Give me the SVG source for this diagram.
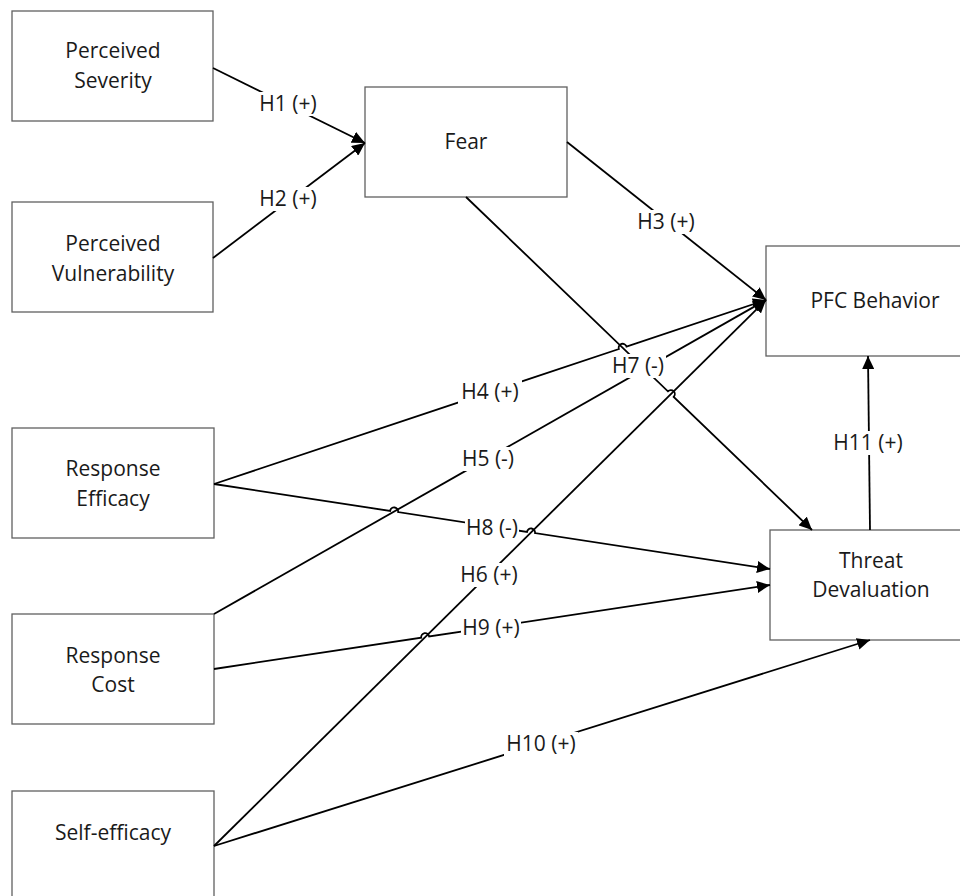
<svg xmlns="http://www.w3.org/2000/svg" width="960" height="896" viewBox="0 0 960 896">
<defs>
<style>
.box{fill:#fff;stroke:#606060;stroke-width:1.3}
.t{font-family:"Open Sans","Noto Sans",sans-serif;font-size:21px;fill:#1a1a1a;text-anchor:middle}
.c{fill:none;stroke:#000;stroke-width:1.8}
.arr{marker-end:url(#ah)}
.lb{fill:#fff;stroke:none}
</style>
<marker id="ah" markerUnits="userSpaceOnUse" markerWidth="14" markerHeight="12" refX="13" refY="6" orient="auto">
<path d="M0,0 L13,6 L0,12 z" fill="#000"/>
</marker>
</defs>
<rect width="960" height="896" fill="#fff"/>

<g id="perceived-severity"><rect class="box" x="12" y="11" width="201" height="110"/><text class="t" x="113" y="58">Perceived</text><text class="t" x="113" y="88">Severity</text></g>
<g id="perceived-vulnerability"><rect class="box" x="12" y="202" width="201" height="110"/><text class="t" x="113" y="251">Perceived</text><text class="t" x="113" y="281">Vulnerability</text></g>
<g id="fear"><rect class="box" x="365" y="87" width="202" height="110"/><text class="t" x="466" y="149">Fear</text></g>
<g id="pfc-behavior"><rect class="box" x="766" y="246" width="210" height="110"/><text class="t" x="875" y="308">PFC Behavior</text></g>
<g id="threat-devaluation"><rect class="box" x="770" y="530" width="210" height="110"/><text class="t" x="871" y="568">Threat</text><text class="t" x="871" y="597">Devaluation</text></g>
<g id="response-efficacy"><rect class="box" x="12" y="428" width="202" height="110"/><text class="t" x="113" y="476">Response</text><text class="t" x="113" y="506">Efficacy</text></g>
<g id="response-cost"><rect class="box" x="12" y="614" width="202" height="110"/><text class="t" x="113" y="663">Response</text><text class="t" x="113" y="692">Cost</text></g>
<g id="self-efficacy"><rect class="box" x="12" y="791" width="202" height="112"/><text class="t" x="113" y="840">Self-efficacy</text></g>

<g id="connectors">
<path class="c arr" d="M213,68 L365,143"/>
<path class="c arr" d="M213,258 L365,143"/>
<path class="c arr" d="M567,142 L766,300"/>
<path class="c arr" d="M214,484 L618.9,349 A4,4 0 0 1 626.5,346.5 L766,300"/>
<path class="c arr" d="M214,614 L766,300"/>
<path class="c arr" d="M214,846 L766,300"/>
<path class="c arr" d="M466,197 L667.9,391.3 A4,4 0 0 1 673.7,396.9 L812,530"/>
<path class="c arr" d="M214,484 L390.1,510.9 A4,4 0 0 1 398.1,512.1 L527,531.9 A4,4 0 0 1 535,533.1 L770,569"/>
<path class="c arr" d="M214,669 L421.2,637.7 A4,4 0 0 1 429.2,636.5 L770,585"/>
<path class="c arr" d="M214,846 L870,640"/>
<path class="c arr" d="M870,530 L868,356"/>

<rect class="lb" x="256" y="92" width="64" height="24"/><text class="t" x="288" y="111">H1 (+)</text>
<rect class="lb" x="256" y="187" width="64" height="24"/><text class="t" x="288" y="206">H2 (+)</text>
<rect class="lb" x="634" y="210" width="64" height="24"/><text class="t" x="666" y="229">H3 (+)</text>
<rect class="lb" x="610" y="354" width="56" height="24"/><text class="t" x="638" y="373">H7 (-)</text>
<rect class="lb" x="458" y="380" width="64" height="24"/><text class="t" x="490" y="399">H4 (+)</text>
<rect class="lb" x="460" y="447" width="56" height="24"/><text class="t" x="488" y="466">H5 (-)</text>
<rect class="lb" x="465" y="516" width="54" height="24"/><text class="t" x="492" y="535">H8 (-)</text>
<rect class="lb" x="457" y="563" width="64" height="24"/><text class="t" x="489" y="582">H6 (+)</text>
<rect class="lb" x="461" y="616" width="60" height="24"/><text class="t" x="491" y="635">H9 (+)</text>
<rect class="lb" x="504" y="732" width="74" height="24"/><text class="t" x="541" y="751">H10 (+)</text>
<rect class="lb" x="831" y="431" width="74" height="24"/><text class="t" x="868" y="450">H11 (+)</text>
</g>
</svg>
